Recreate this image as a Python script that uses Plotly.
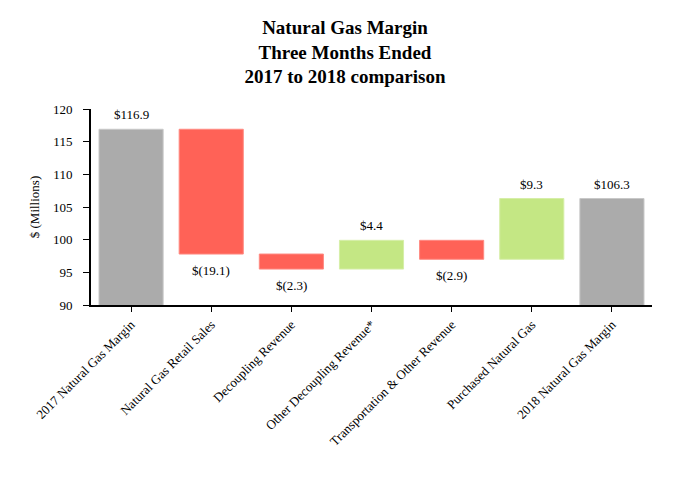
import plotly.graph_objects as go

categories = ["2017 Natural Gas Margin", "Natural Gas Retail Sales", "Decoupling Revenue",
              "Other Decoupling Revenue*", "Transportation & Other Revenue",
              "Purchased Natural Gas", "2018 Natural Gas Margin"]
measures = ["absolute", "relative", "relative", "relative", "relative", "relative", "total"]
values = [116.9, -19.1, -2.3, 4.4, -2.9, 9.3, 0]
labels = ["$116.9", "$(19.1)", "$(2.3)", "$4.4", "$(2.9)", "$9.3", "$106.3"]
y_ticks = [90, 95, 100, 105, 110, 115, 120]

font = "Liberation Serif, Times New Roman, serif"

fig = go.Figure(go.Waterfall(
    x=categories, y=values, measure=measures,
    width=0.8,
    connector=dict(visible=False),
    increasing=dict(marker=dict(color="#C4E784", line=dict(color="#D6EEA8", width=1))),
    decreasing=dict(marker=dict(color="#FF6257", line=dict(color="#FF8A82", width=1))),
    totals=dict(marker=dict(color="#ABABAB", line=dict(color="#C8C8C8", width=1))),
    hoverinfo="skip",
))

# value labels: placed at the end of each bar (computed from the data)
running = 0.0
for cat, m, v, lab in zip(categories, measures, values, labels):
    if m == "absolute":
        running = v
        end, up = v, True
    elif m == "relative":
        running += v
        end, up = running, v >= 0
    else:
        end, up = running, True
    fig.add_annotation(x=cat, y=end, text=lab, showarrow=False,
                       yanchor="bottom" if up else "top",
                       yshift=5 if up else -7,
                       font=dict(family=font, size=13, color="black"))

fig.update_layout(
    width=674, height=472,
    margin=dict(l=83, r=30, t=101, b=175),
    paper_bgcolor="white", plot_bgcolor="white",
    showlegend=False,
    font=dict(family=font, size=13, color="black"),
    title=dict(text="<b>Natural Gas Margin<br>Three Months Ended<br>2017 to 2018 comparison</b>",
               x=0.5, xanchor="center", y=0.945, yanchor="top",
               font=dict(family=font, size=19, color="black")),
    xaxis=dict(range=[-0.5, 6.5], showline=True, linecolor="black", linewidth=2,
               ticks="outside", ticklen=5, tickcolor="black", tickangle=-45,
               showgrid=False, tickfont=dict(family=font, size=13)),
    yaxis=dict(range=[90, 120], tickvals=y_ticks, showline=True, linecolor="black", linewidth=2,
               ticks="outside", ticklen=6, tickcolor="black", showgrid=False, zeroline=False,
               ticklabelstandoff=8,
               title=dict(text="$ (Millions)", font=dict(family=font, size=13), standoff=10),
               tickfont=dict(family=font, size=13)),
)

fig.write_html("out.html")
